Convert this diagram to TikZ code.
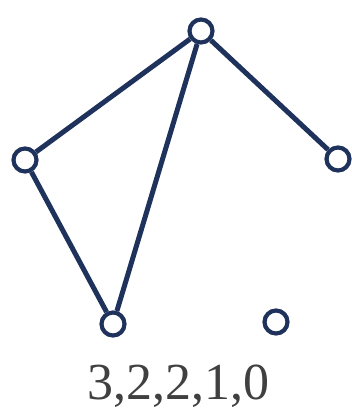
\documentclass[tikz,border=0pt]{standalone}
\usepackage{fontspec}
\setmainfont{Liberation Serif}
\definecolor{navy}{RGB}{30,50,92}
\definecolor{labelgray}{RGB}{64,64,64}
\begin{document}
\begin{tikzpicture}[x=1pt,y=-1pt,
  vertex/.style={circle,draw=navy,line width=4.2pt,fill=white,inner sep=0pt,minimum size=23pt},
  edge/.style={draw=navy,line width=5pt}]
\useasboundingbox (0,0) rectangle (351,411);
\node[vertex] (t) at (201,31) {};
\node[vertex] (l) at (25,160) {};
\node[vertex] (r) at (338,159) {};
\node[vertex] (b) at (113,324) {};
\node[vertex] (i) at (276,322) {};
\draw[edge] (t) -- (l);
\draw[edge] (t) -- (b);
\draw[edge] (t) -- (r);
\draw[edge] (l) -- (b);
\node[text=labelgray,font=\fontsize{52}{60}\selectfont,anchor=base,inner sep=0pt] (lab) at (178,399) {3,2,2,1,0};
\end{tikzpicture}
\end{document}
